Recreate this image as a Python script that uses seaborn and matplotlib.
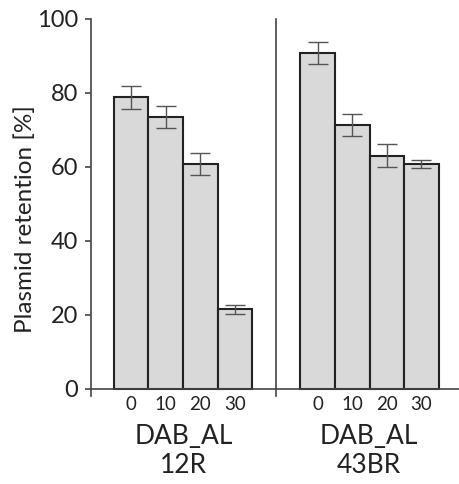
import numpy as np
import pandas as pd
import seaborn as sns
import matplotlib
matplotlib.use("Agg")
import matplotlib.pyplot as plt

sns.set_style("ticks")
plt.rcParams['font.family'] = ['Lato', 'DejaVu Sans']

doses = ["0", "10", "20", "30"]
strains = ["DAB_AL\n12R", "DAB_AL\n43BR"]
retention_12r = [78.8, 73.4, 60.8, 21.5]
err_12r = [3.0, 3.0, 3.0, 1.1]
retention_43br = [90.9, 71.4, 63.0, 60.8]
err_43br = [3.0, 3.0, 3.1, 1.2]

fig = plt.figure(figsize=(4.6, 4.84), dpi=100)
ax1 = fig.add_axes([0.198, 0.181, 0.402, 0.7798])
ax2 = fig.add_axes([0.600, 0.181, 0.404, 0.7798], sharey=ax1)

panels = [
    (ax1, retention_12r, err_12r, strains[0], (-1.156, 4.19)),
    (ax2, retention_43br, err_43br, strains[1], (-1.205, 4.17)),
]

for ax, vals, errs, name, xl in panels:
    df = pd.DataFrame({"dose": doses, "ret": vals})
    sns.barplot(data=df, x="dose", y="ret", ax=ax, color="#d9d9d9",
                saturation=1, width=1.0, edgecolor="#222222", linewidth=1.5,
                errorbar=None)
    ax.errorbar(np.arange(len(vals)), vals, yerr=errs, fmt="none",
                ecolor="#555555", elinewidth=1.0, capsize=7, capthick=1.0)
    ax.set_xlim(*xl)
    ax.set_ylim(-2, 100)
    ax.spines["bottom"].set_position(("data", 0))
    for s in ["top", "right"]:
        ax.spines[s].set_visible(False)
    for s in ["left", "bottom"]:
        ax.spines[s].set_color("#444444")
        ax.spines[s].set_linewidth(1.2)
    ax.tick_params(axis="x", length=0, pad=5, labelsize=13.5, colors="#222222")
    ax.set_xlabel(name, fontsize=19, labelpad=8, color="#222222")
    ax.xaxis.label.set_linespacing(1.2)

ax1.set_yticks([0, 20, 40, 60, 80, 100])
ax1.tick_params(axis="y", length=4.5, width=1.2, color="#444444", pad=5,
                labelsize=17, labelcolor="#222222")
ax1.set_ylabel("Plasmid retention [%]", fontsize=17.5, color="#222222")
ax1.yaxis.set_label_coords(-0.30, 0.47)

ax2.tick_params(axis="y", left=False, labelleft=False)
ax2.set_ylabel("")

fig.savefig("out.png", dpi=100)
